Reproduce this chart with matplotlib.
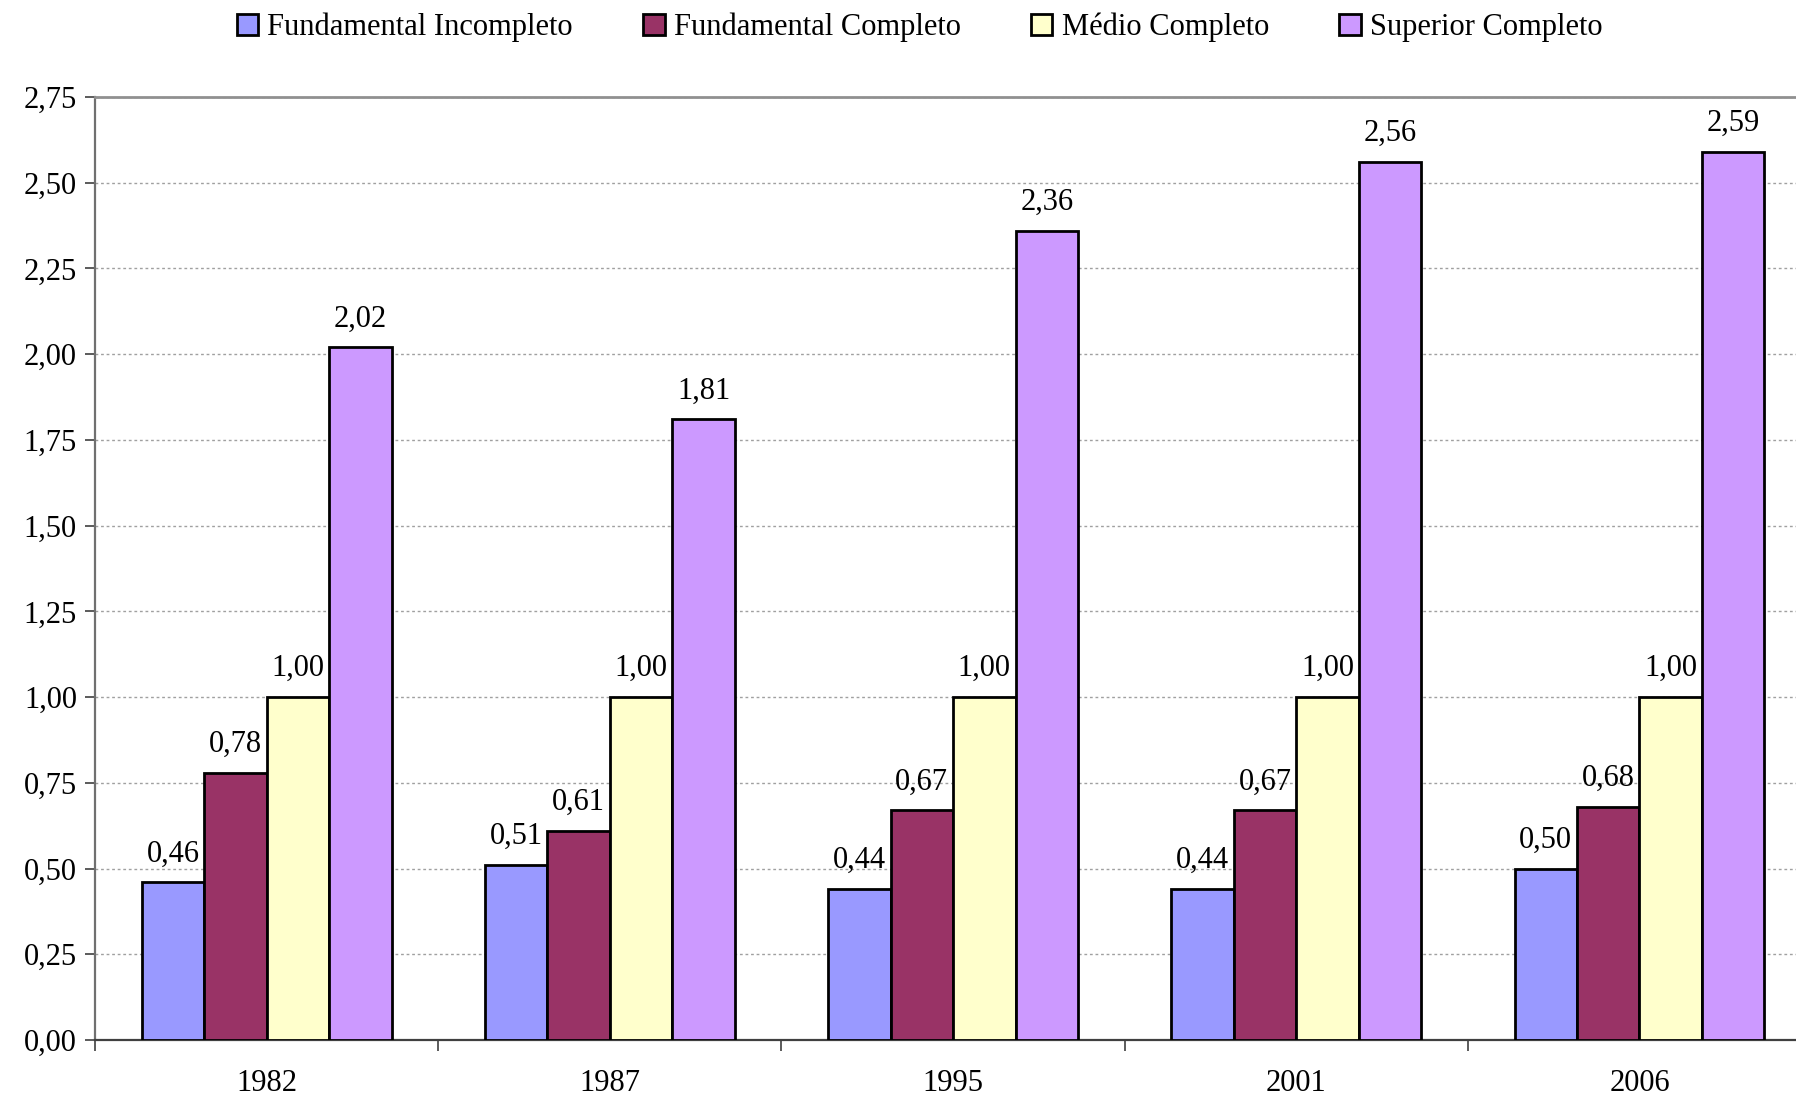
import numpy as np
import matplotlib
matplotlib.use("Agg")
import matplotlib.pyplot as plt
from matplotlib.ticker import FixedLocator, FuncFormatter

plt.rcParams["font.family"] = ["Liberation Serif", "DejaVu Serif"]

years = ["1982", "1987", "1995", "2001", "2006"]
series = ["Fundamental Incompleto", "Fundamental Completo", "Médio Completo", "Superior Completo"]
fund_incompleto = [0.46, 0.51, 0.44, 0.44, 0.50]
fund_completo = [0.78, 0.61, 0.67, 0.67, 0.68]
medio_completo = [1.00, 1.00, 1.00, 1.00, 1.00]
superior_completo = [2.02, 1.81, 2.36, 2.56, 2.59]
colors = ["#9999FF", "#993366", "#FFFFCC", "#CC99FF"]


def fmt(v):
    return f"{v:.2f}".replace(".", ",")


def main() -> None:
    fig = plt.figure(figsize=(17.96, 11.0), dpi=100)
    ax = fig.add_axes([0.0529, 0.0545, 0.9471, 0.8573])

    x = np.arange(len(years))
    width = 0.182
    data = [fund_incompleto, fund_completo, medio_completo, superior_completo]
    for i, (name, vals, col) in enumerate(zip(series, data, colors)):
        pos = x + (i - 1.5) * width
        ax.bar(pos, vals, width, color=col, edgecolor="black", linewidth=2.0,
               label=name, zorder=3)
        for px, v in zip(pos, vals):
            ax.annotate(fmt(v), (px, v), xytext=(0, 10), textcoords="offset points",
                        ha="center", va="bottom", fontsize=22)

    ax.set_ylim(0, 2.75)
    ax.set_xlim(-0.5, 4.456)
    ax.yaxis.set_major_locator(FixedLocator(np.arange(0, 2.76, 0.25)))
    ax.yaxis.set_major_formatter(FuncFormatter(lambda v, _: fmt(v)))
    ax.grid(axis="y", linestyle=(0, (2, 2)), color="#a0a0a0", linewidth=1.0, zorder=0)

    ax.xaxis.set_major_locator(FixedLocator(np.arange(-0.5, 5, 1.0)))
    ax.xaxis.set_major_formatter(FuncFormatter(lambda v, _: ""))
    ax.set_xticks(x, minor=True)
    ax.set_xticklabels(years, minor=True)
    ax.tick_params(axis="x", which="major", direction="out", length=8, width=1.2, color="#404040")
    ax.tick_params(axis="x", which="minor", length=0, pad=21, labelsize=22)
    ax.tick_params(axis="y", direction="out", length=7, width=1.2, color="#404040",
                   labelsize=22, pad=6)

    ax.spines["right"].set_visible(False)
    ax.spines["top"].set_color("#909090")
    ax.spines["top"].set_linewidth(2.0)
    ax.spines["left"].set_color("#707070")
    ax.spines["left"].set_linewidth(1.6)
    ax.spines["bottom"].set_color("#404040")
    ax.spines["bottom"].set_linewidth(1.6)

    fig.legend(loc="center", bbox_to_anchor=(0.512, 0.975), ncol=4, frameon=False,
               fontsize=22, handlelength=0.7, handleheight=0.7, handletextpad=0.3,
               columnspacing=2.3)

    fig.savefig("out.png", dpi=100)


if __name__ == "__main__":
    main()
